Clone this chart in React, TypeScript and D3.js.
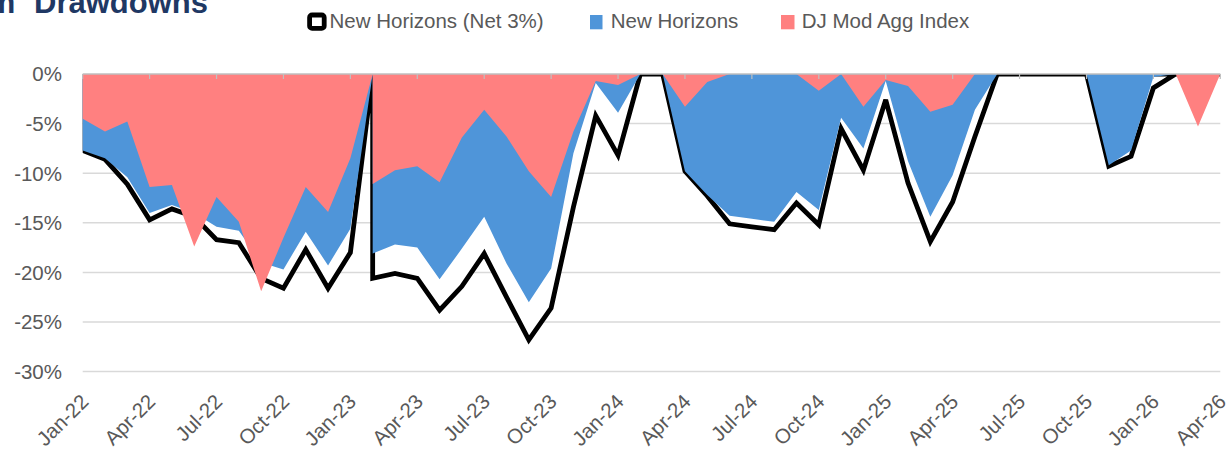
import React from 'react'
import * as d3 from 'd3'

// monthly observations; Feb-23 appears twice (peak, then the new drawdown)
const months = [
  '2022-01', '2022-02', '2022-03', '2022-04', '2022-05', '2022-06',
  '2022-07', '2022-08', '2022-09', '2022-10', '2022-11', '2022-12',
  '2023-01', '2023-02', '2023-02', '2023-03', '2023-04', '2023-05',
  '2023-06', '2023-07', '2023-08', '2023-09', '2023-10', '2023-11', '2023-12',
  '2024-01', '2024-02', '2024-03', '2024-04', '2024-05', '2024-06',
  '2024-07', '2024-08', '2024-09', '2024-10', '2024-11', '2024-12',
  '2025-01', '2025-02', '2025-03', '2025-04', '2025-05', '2025-06',
  '2025-07', '2025-08', '2025-09', '2025-10', '2025-11', '2025-12',
  '2026-01', '2026-02', '2026-03', '2026-04',
]

const netDrawdown = [
  -7.7, -8.6, -11.1, -14.7, -13.6, -14.4, -16.7, -17.0, -20.6, -21.6, -17.7, -21.6,
  -18.0, 0, -20.6, -20.1, -20.6, -23.8, -21.4, -18.1, -22.5, -26.8, -23.6, -13.4, -4.2,
  -8.2, 0, 0, -9.8, -12.3, -15.1, -15.4, -15.7, -13.0, -15.2, -5.5, -9.7,
  -2.6, -11.0, -16.9, -12.9, -6.3, 0, 0, 0, 0, 0, -9.3, -8.3,
  -1.4, 0, 0, 0,
]

const grossDrawdown = [
  -7.7, -8.5, -10.4, -14.0, -13.2, -14.0, -15.4, -15.8, -19.0, -19.7, -15.9, -19.3,
  -15.6, 0, -18.1, -17.2, -17.5, -20.7, -17.6, -14.4, -19.1, -23.0, -19.6, -8.0, -0.9,
  -3.9, 0, 0, -9.8, -12.2, -14.3, -14.6, -14.9, -11.9, -13.7, -4.4, -7.5,
  -0.7, -8.8, -14.4, -10.2, -3.6, 0, 0, 0, 0, 0, -9.2, -7.7,
  -0.3, 0, 0, 0,
]

const indexDrawdown = [
  -4.5, -5.8, -4.8, -11.4, -11.2, -17.4, -12.4, -14.9, -21.9, -16.5, -11.4, -13.9,
  -8.5, 0, -11.1, -9.7, -9.3, -10.9, -6.4, -3.6, -6.3, -9.8, -12.4, -5.8, -0.7,
  -1.1, 0, 0, -3.3, -0.8, 0, 0, 0, 0, -1.7, 0, -3.3,
  -0.6, -1.2, -3.8, -3.1, 0, 0, 0, 0, 0, 0, 0, 0,
  0, 0, -5.3, 0,
]

const yTicks = [0, -5, -10, -15, -20, -25, -30]
const xTickLabels = [
  'Jan-22', 'Apr-22', 'Jul-22', 'Oct-22', 'Jan-23', 'Apr-23', 'Jul-23', 'Oct-23',
  'Jan-24', 'Apr-24', 'Jul-24', 'Oct-24', 'Jan-25', 'Apr-25', 'Jul-25', 'Oct-25',
  'Jan-26', 'Apr-26',
]

const width = 1229
const height = 449
const plotLeft = 82.7
const plotRight = 1220.3
const plotTop = 74
const plotBottom = 371.6

const font = 'Liberation Sans, Arial, sans-serif'
const textGray = '#595959'
const blue = '#4F95D9'
const pink = '#FF8080'

const monthIndex = (m: string) => {
  const [yr, mo] = m.split('-').map(Number)
  return (yr - 2022) * 12 + mo - 1
}
const parseLabel = d3.timeParse('%b-%y')

export default function App() {
  const x = d3.scaleLinear().domain([0, 51]).range([plotLeft, plotRight])
  const y = d3.scaleLinear().domain([-30, 0]).range([plotBottom, plotTop])

  const area = d3.area<number>()
    .x((_, i) => x(monthIndex(months[i])))
    .y0(y(0))
    .y1(d => y(d))

  const tickX = (label: string) => {
    const dt = parseLabel(label) as Date
    return x((dt.getFullYear() - 2022) * 12 + dt.getMonth())
  }

  return (
    <svg width={width} height={height} style={{ position: 'absolute', left: 0, top: 0 }}
      fontFamily={font}>
      <defs>
        <clipPath id="plot-clip">
          <rect x={plotLeft} y={plotTop} width={plotRight - plotLeft} height={plotBottom - plotTop} />
        </clipPath>
      </defs>

      {/* title, cut off at the top like the source */}
      <text x={208} y={12.5} textAnchor="end" fontSize={31} fontWeight="bold" fill="#1F3864">
        <tspan>Maximum</tspan><tspan dx={10}> Drawdowns</tspan>
      </text>

      {/* gridlines */}
      {yTicks.filter(t => t !== 0).map(t => (
        <line key={t} x1={plotLeft} x2={plotRight} y1={y(t)} y2={y(t)} stroke="#D9D9D9" strokeWidth={1.5} />
      ))}

      {/* series */}
      <path d={area(netDrawdown) || ''} fill="#fff" stroke="#000" strokeWidth={4.8}
        strokeLinejoin="miter" strokeMiterlimit={3} clipPath="url(#plot-clip)" />
      <path d={area(grossDrawdown) || ''} fill={blue} />
      <path d={area(indexDrawdown) || ''} fill={pink} />

      {/* category axis at 0% */}
      <line x1={plotLeft} x2={plotRight} y1={y(0)} y2={y(0)} stroke="#BFBFBF" strokeWidth={1.5} />
      {xTickLabels.map(l => (
        <line key={l} x1={tickX(l)} x2={tickX(l)} y1={y(0)} y2={y(0) + 5} stroke="#BFBFBF" strokeWidth={1.2} />
      ))}

      {/* y labels */}
      {yTicks.map(t => (
        <text key={t} x={62} y={y(t) + 7.3} textAnchor="end" fontSize={20.5} fill={textGray}>
          {t}%
        </text>
      ))}

      {/* x labels */}
      {xTickLabels.map(l => (
        <text key={l} transform={`translate(${tickX(l) + 7},403) rotate(-45)`} textAnchor="end"
          fontSize={20.5} fill={textGray}>
          {l}
        </text>
      ))}

      {/* legend */}
      <rect x={309.6} y={15} width={14.6} height={13.4} rx={2.5} fill="#fff" stroke="#000" strokeWidth={4.8} />
      <text x={329.5} y={28.3} fontSize={20.5} fill={textGray}>New Horizons (Net 3%)</text>
      <rect x={590} y={15} width={12.5} height={14.3} fill={blue} />
      <text x={610.7} y={28.3} fontSize={20.5} fill={textGray}>New Horizons</text>
      <rect x={781} y={15} width={13.5} height={14.3} fill={pink} />
      <text x={801.7} y={28.3} fontSize={20.5} fill={textGray}>DJ Mod Agg Index</text>
    </svg>
  )
}
